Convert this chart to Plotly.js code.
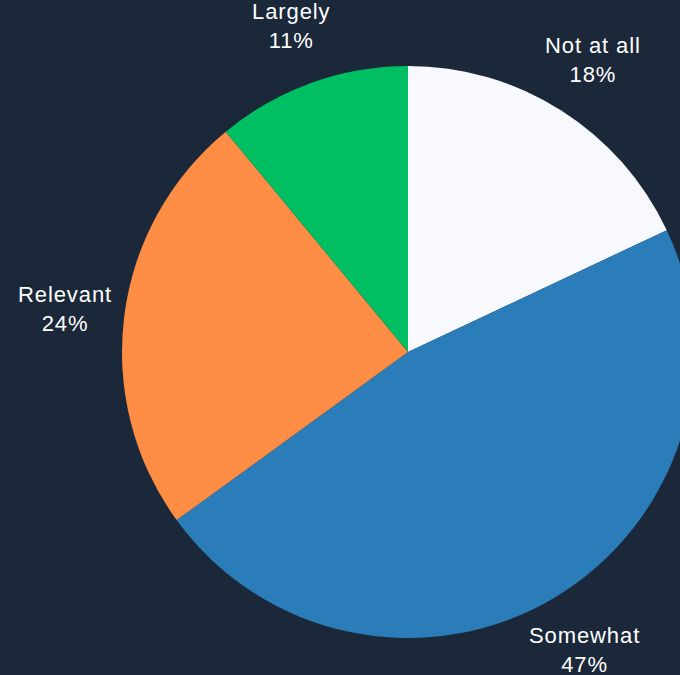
<!DOCTYPE html>
<html>
<head>
<meta charset="utf-8">
<script src="https://cdn.plot.ly/plotly-3.0.1.min.js"></script>
<style>
html,body{margin:0;padding:0;overflow:hidden;background:#1a283a;}
.annotation-text{letter-spacing:0.9px;}
</style>
</head>
<body>
<div id="chart"></div>
<script>
const labels = ["Not at all", "Somewhat", "Relevant", "Largely"];
const values = [18, 47, 24, 11];
const colors = ["#f8f9fd", "#2a7db8", "#fd8c45", "#00bf62"];

// label placement: centered on each slice's mid-angle, outside the pie
const total = values.reduce((a, b) => a + b, 0);
const labelDist = 1.21;
let cum = 0;
const annotations = labels.map((lab, i) => {
  const mid = (cum + values[i] / 2) / total;
  cum += values[i];
  const theta = mid * 2 * Math.PI; // clockwise from 12 o'clock
  return {
    xref: "paper", yref: "paper",
    x: 0.5 + 0.5 * labelDist * Math.sin(theta),
    y: 0.5 + 0.5 * labelDist * Math.cos(theta),
    xanchor: "center", yanchor: "middle",
    text: lab + "<br>" + Math.round(values[i] / total * 100) + "%",
    showarrow: false,
    align: "center",
    font: {color: "#ffffff", size: 22, family: "Liberation Sans, Arial, sans-serif"}
  };
});

Plotly.newPlot("chart", [{
  type: "pie",
  labels: labels,
  values: values,
  sort: false,
  direction: "clockwise",
  rotation: 0,
  marker: {colors: colors, line: {width: 0}},
  textinfo: "none",
  showlegend: false,
  hoverinfo: "none"
}], {
  width: 700,
  height: 675,
  paper_bgcolor: "#1a283a",
  plot_bgcolor: "#1a283a",
  margin: {l: 122, r: 6, t: 66, b: 37},
  showlegend: false,
  annotations: annotations
}, {displayModeBar: false, staticPlot: true});
</script>
</body>
</html>
